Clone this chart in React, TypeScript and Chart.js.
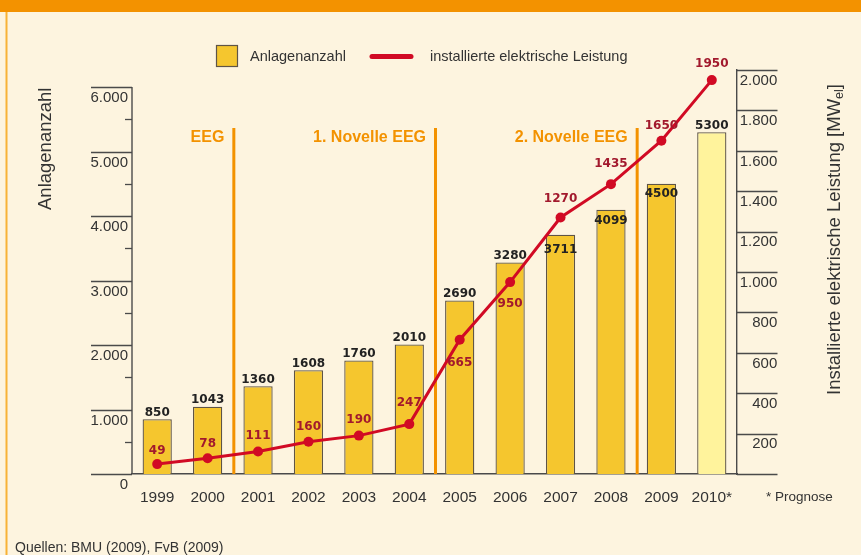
import React, { useEffect, useRef } from 'react';
import { Chart, registerables } from 'chart.js';

Chart.register(...registerables);

// ---------- data ----------
const years = ['1999', '2000', '2001', '2002', '2003', '2004', '2005', '2006', '2007', '2008', '2009', '2010*'];
const anlagenanzahl = [850, 1043, 1360, 1608, 1760, 2010, 2690, 3280, 3711, 4099, 4500, 5300];
const leistungMW = [49, 78, 111, 160, 190, 247, 665, 950, 1270, 1435, 1650, 1950];
const milestoneNames = ['EEG', '1. Novelle EEG', '2. Novelle EEG'];
const milestoneAfterYear = ['2000', '2004', '2008'];
const leftTickValues = [0, 500, 1000, 1500, 2000, 2500, 3000, 3500, 4000, 4500, 5000, 5500, 6000];
const rightTickValues = [0, 200, 400, 600, 800, 1000, 1200, 1400, 1600, 1800, 2000];
const leftScaleMax = 6265;
const rightScaleMax = 2000;
const leftTitle = 'Anlagenanzahl';
const rightTitleMain = 'Installierte elektrische Leistung [MW';
const rightTitleSub = 'el';
const rightTitleEnd = ']';
const footSource = 'Quellen: BMU (2009), FvB (2009)';
const footPrognose = '* Prognose';

// ---------- styles ----------
const BG = '#FDF4DF';
const ORANGE = '#F39200';
const BORDER_ORANGE = '#F8B236';
const BAR = '#F5C62E';
const BAR_LIGHT = '#FFF39C';
const BAR_BORDER = '#5E5446';
const RED = '#D10A24';
const RED_LABEL = '#A2192D';
const AXIS = '#4A4A4A';
const TEXT = '#333333';
const SANS = '"Liberation Sans", Arial, sans-serif';
const BOLDNUM = 'bold 12px "DejaVu Sans", sans-serif';

// label placement (pixels, relative to bar top / point centre)
const barLabelOffsets = [-6.5, -6.5, -6.5, -6.5, -6.5, -6.5, -6.5, -6.5, 15, 11, 10, -6.5];
const lineLabelOffsets = [-13, -14.5, -16, -15, -16, -21, 23, 22, -19, -20, -15, -16];

const fmt = (v: number) => String(v).replace(/\B(?=(\d{3})+(?!\d))/g, '.');

const decor = {
  id: 'decor',
  beforeDraw(chart: any) {
    const { ctx, width, height } = chart;
    ctx.save();
    ctx.fillStyle = BG;
    ctx.fillRect(0, 0, width, height);
    ctx.fillStyle = ORANGE;
    ctx.fillRect(0, 0, width, 12);
    ctx.fillStyle = BORDER_ORANGE;
    ctx.fillRect(5.5, 12, 2, height - 12);
    ctx.restore();
  },
  beforeDatasetsDraw(chart: any) {
    const { ctx, chartArea, scales } = chart;
    const x = scales.x;
    const yl = scales.y;
    const yr = scales.y1;
    ctx.save();
    // milestone lines
    milestoneAfterYear.forEach((yrName, i) => {
      const idx = years.indexOf(yrName);
      const px = (x.getPixelForValue(idx) + x.getPixelForValue(idx + 1)) / 2 + 1;
      ctx.strokeStyle = ORANGE;
      ctx.lineWidth = 3;
      ctx.beginPath();
      ctx.moveTo(px, 128);
      ctx.lineTo(px, chartArea.bottom);
      ctx.stroke();
      ctx.fillStyle = ORANGE;
      ctx.font = 'bold 16px ' + SANS;
      ctx.textAlign = 'right';
      ctx.textBaseline = 'middle';
      ctx.fillText(milestoneNames[i], px - 9.5, 137.5);
    });
    // left axis line (only up to the highest tick)
    ctx.strokeStyle = AXIS;
    ctx.lineWidth = 1.4;
    const topPx = yl.getPixelForValue(leftTickValues[leftTickValues.length - 1]);
    ctx.beginPath();
    ctx.moveTo(chartArea.left, topPx);
    ctx.lineTo(chartArea.left, chartArea.bottom);
    ctx.stroke();
    // left tick lines
    ctx.lineWidth = 1.3;
    yl.ticks.forEach((t: any) => {
      const py = Math.round(yl.getPixelForValue(t.value)) + 0.5;
      const len = t.value % 1000 === 0 ? 41 : 7;
      ctx.beginPath();
      ctx.moveTo(chartArea.left - len, py);
      ctx.lineTo(chartArea.left, py);
      ctx.stroke();
    });
    // right tick lines
    yr.ticks.forEach((t: any) => {
      const py = Math.round(yr.getPixelForValue(t.value)) + 0.5;
      ctx.beginPath();
      ctx.moveTo(chartArea.right, py);
      ctx.lineTo(chartArea.right + 40.5, py);
      ctx.stroke();
    });
    ctx.restore();
  },
  afterDatasetsDraw(chart: any) {
    const { ctx } = chart;
    ctx.save();
    ctx.font = BOLDNUM;
    ctx.textAlign = 'center';
    ctx.textBaseline = 'middle';
    const barMeta = chart.getDatasetMeta(0);
    const barData = chart.data.datasets[0].data;
    barMeta.data.forEach((bar: any, i: number) => {
      const p = bar.getProps(['x', 'y'], true);
      ctx.fillStyle = '#222222';
      ctx.fillText(String(barData[i]), p.x, p.y + barLabelOffsets[i]);
    });
    const lineMeta = chart.getDatasetMeta(1);
    const lineData = chart.data.datasets[1].data;
    lineMeta.data.forEach((pt: any, i: number) => {
      const p = pt.getProps(['x', 'y'], true);
      ctx.fillStyle = RED_LABEL;
      ctx.fillText(String(lineData[i]), p.x, p.y + lineLabelOffsets[i]);
    });
    ctx.restore();
  },
  afterDraw(chart: any) {
    const { ctx } = chart;
    const ds = chart.data.datasets;
    ctx.save();
    // legend
    ctx.fillStyle = BAR;
    ctx.fillRect(216.5, 45.5, 21, 21);
    ctx.strokeStyle = BAR_BORDER;
    ctx.lineWidth = 1.2;
    ctx.strokeRect(216.5, 45.5, 21, 21);
    ctx.fillStyle = TEXT;
    ctx.font = '14.5px ' + SANS;
    ctx.textAlign = 'left';
    ctx.textBaseline = 'middle';
    ctx.fillText(ds[0].label, 250, 56.5);
    ctx.strokeStyle = RED;
    ctx.lineWidth = 5;
    ctx.lineCap = 'round';
    ctx.beginPath();
    ctx.moveTo(372, 56.5);
    ctx.lineTo(411, 56.5);
    ctx.stroke();
    ctx.fillText(ds[1].label, 430, 56.5);

    // left title
    ctx.font = '18.5px ' + SANS;
    ctx.fillStyle = TEXT;
    ctx.save();
    ctx.translate(45.5, 210);
    ctx.rotate(-Math.PI / 2);
    ctx.textAlign = 'left';
    ctx.textBaseline = 'middle';
    ctx.fillText(leftTitle, 0, 0);
    ctx.restore();

    // right title
    ctx.save();
    ctx.translate(835, 395);
    ctx.rotate(-Math.PI / 2);
    ctx.textAlign = 'left';
    ctx.textBaseline = 'middle';
    ctx.font = '18.5px ' + SANS;
    ctx.fillText(rightTitleMain, 0, 0);
    let off = ctx.measureText(rightTitleMain).width;
    ctx.font = '12.5px ' + SANS;
    ctx.fillText(rightTitleSub, off, 5);
    off += ctx.measureText(rightTitleSub).width;
    ctx.font = '18.5px ' + SANS;
    ctx.fillText(rightTitleEnd, off, 0);
    ctx.restore();

    // footnotes
    ctx.font = '14px ' + SANS;
    ctx.fillStyle = TEXT;
    ctx.textAlign = 'left';
    ctx.textBaseline = 'middle';
    ctx.fillText(footSource, 15, 548);
    ctx.font = '13.5px ' + SANS;
    ctx.fillText(footPrognose, 766, 497);
    ctx.restore();
  },
};

export default function App() {
  const ref = useRef<HTMLCanvasElement>(null);
  useEffect(() => {
    const chart = new Chart(ref.current as HTMLCanvasElement, {
      type: 'bar',
      data: {
        labels: years,
        datasets: [
          {
            type: 'bar',
            label: 'Anlagenanzahl',
            data: anlagenanzahl,
            yAxisID: 'y',
            backgroundColor: years.map((y) => (y.endsWith('*') ? BAR_LIGHT : BAR)),
            borderColor: BAR_BORDER,
            borderWidth: 1.3,
            categoryPercentage: 1,
            barPercentage: 0.58,
            order: 2,
          } as any,
          {
            type: 'line',
            label: 'installierte elektrische Leistung',
            data: leistungMW,
            yAxisID: 'y1',
            borderColor: RED,
            backgroundColor: RED,
            borderWidth: 3,
            pointRadius: 5,
            pointBackgroundColor: RED,
            pointBorderWidth: 0,
            tension: 0,
            order: 1,
          } as any,
        ],
      },
      options: {
        responsive: false,
        animation: false,
        devicePixelRatio: 1,
        layout: { padding: { left: 72, right: 83.7, top: 70, bottom: 51 } },
        plugins: {
          legend: { display: false },
          tooltip: { enabled: false },
          title: { display: false },
        },
        scales: {
          x: {
            type: 'category',
            offset: true,
            grid: { display: false, drawTicks: false },
            border: { display: true, color: AXIS, width: 1.4 },
            ticks: {
              padding: 14.7,
              color: TEXT,
              font: { family: 'Liberation Sans', size: 15.5 },
              maxRotation: 0,
              autoSkip: false,
            },
            afterFit: (s: any) => {
              s.height = 30;
            },
          },
          y: {
            position: 'left',
            min: 0,
            max: leftScaleMax,
            grid: { display: false, drawTicks: false },
            border: { display: false },
            afterBuildTicks: (s: any) => {
              s.ticks = leftTickValues.map((v) => ({ value: v }));
            },
            ticks: {
              autoSkip: false,
              padding: 4,
              labelOffset: 11,
              color: TEXT,
              font: { family: 'Liberation Sans', size: 15 },
              callback: (v: any) => (Number(v) % 1000 === 0 ? fmt(Number(v)) : ''),
            },
            afterFit: (s: any) => {
              s.width = 60;
            },
          },
          y1: {
            position: 'right',
            min: 0,
            max: rightScaleMax,
            grid: { display: false, drawTicks: false },
            border: { display: true, color: AXIS, width: 1.4 },
            afterBuildTicks: (s: any) => {
              s.ticks = rightTickValues.map((v) => ({ value: v }));
            },
            ticks: {
              autoSkip: false,
              padding: 4,
              crossAlign: 'far',
              labelOffset: 10.7,
              color: TEXT,
              font: { family: 'Liberation Sans', size: 15 },
              callback: (v: any) => (Number(v) === 0 ? '' : fmt(Number(v))),
            },
            afterFit: (s: any) => {
              s.width = 40.3;
            },
          },
        },
      } as any,
      plugins: [decor],
    });
    return () => chart.destroy();
  }, []);
  return (
    <div style={{ position: 'fixed', left: 0, top: 0, width: 861, height: 555 }}>
      <canvas ref={ref} width={861} height={555} style={{ display: 'block' }} />
    </div>
  );
}
